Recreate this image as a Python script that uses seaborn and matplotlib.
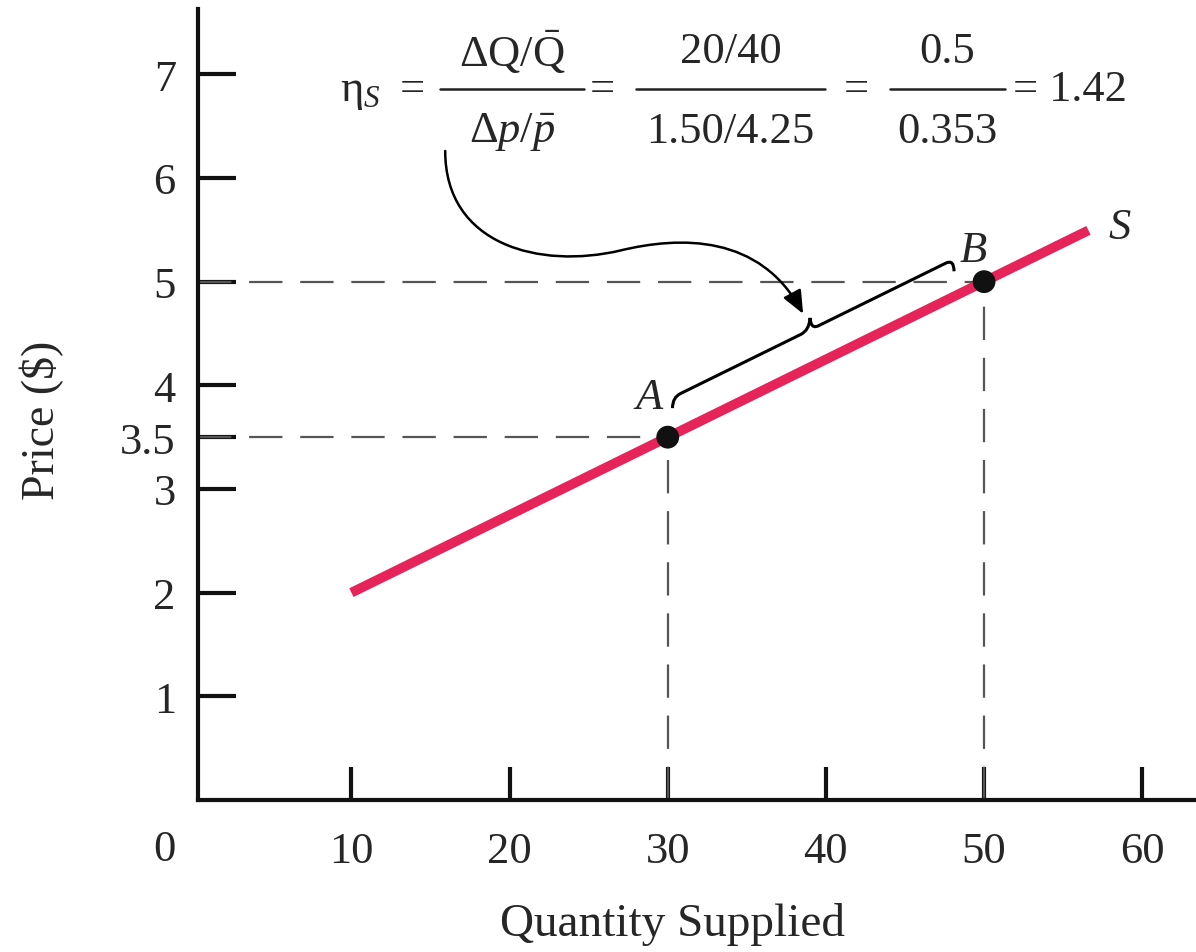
import numpy as np
import pandas as pd
import matplotlib
matplotlib.use("Agg")
import matplotlib.pyplot as plt
import seaborn as sns
from matplotlib.path import Path
from matplotlib.patches import PathPatch, FancyArrowPatch
from matplotlib.lines import Line2D

# ---- data ----
supply_q = [10, 56.6]
supply_p = [2.0, 5.495]
point_labels = ["A", "B"]
point_q = [30, 50]
point_p = [3.5, 5.0]
x_ticks = [10, 20, 30, 40, 50, 60]
y_ticks = [1, 2, 3, 3.5, 4, 5, 6, 7]
y_tick_labels = ["1", "2", "3", "3.5", "4", "5", "6", "7"]
frac_num = [r"$\Delta\mathrm{Q}/\bar{\mathrm{Q}}$", "20/40", "0.5"]
frac_den = [r"$\Delta p/\bar{p}$", "1.50/4.25", "0.353"]
result = "= 1.42"

sns.set_theme(style="ticks")
plt.rcParams["font.family"] = ["Liberation Serif", "DejaVu Serif"]
plt.rcParams["mathtext.fontset"] = "custom"
plt.rcParams["mathtext.rm"] = "Liberation Serif"
plt.rcParams["mathtext.it"] = "Liberation Serif:italic"
plt.rcParams["mathtext.bf"] = "Liberation Serif:bold"

W, H = 1196, 953
fig = plt.figure(figsize=(W / 100, H / 100), dpi=100)
ax = fig.add_axes([198 / W, (H - 801) / H, (W - 198) / W, (801 - 10) / H])

RED = "#E6245A"
GRAY = "#555555"
FS = 32

df_line = pd.DataFrame({"q": supply_q, "p": supply_p})
sns.lineplot(data=df_line, x="q", y="p", ax=ax, color=RED, linewidth=7,
             solid_capstyle="butt", zorder=3)

# dashed guides
for q, p in zip(point_q, point_p):
    ax.plot([0.3, q], [p, p], color=GRAY, lw=1.6, dashes=(15, 8), zorder=2)
    ax.plot([q, q], [0, p], color=GRAY, lw=1.6, dashes=(15, 8), zorder=2)

df_pts = pd.DataFrame({"q": point_q, "p": point_p, "lab": point_labels})
sns.scatterplot(data=df_pts, x="q", y="p", ax=ax, color="#111111", s=270,
                edgecolor="none", zorder=4, legend=False)

ax.text(28.8, 3.89, "A", fontsize=FS, style="italic", ha="center", va="center")
ax.text(49.3, 5.31, "B", fontsize=FS, style="italic", ha="center", va="center")
ax.text(58.6, 5.53, "S", fontsize=FS, style="italic", ha="center", va="center")

# brace
verts = [(30.3, 3.78), (30.3, 3.883), (30.8, 3.92), (38.4, 4.49),
         (38.95, 4.53), (39.0, 4.65), (39.05, 4.53), (39.6, 4.58),
         (47.6, 5.18), (48.1, 5.215), (48.1, 5.10)]
codes = [Path.MOVETO, Path.CURVE3, Path.CURVE3, Path.LINETO,
         Path.CURVE3, Path.CURVE3, Path.CURVE3, Path.CURVE3,
         Path.LINETO, Path.CURVE3, Path.CURVE3]
ax.add_patch(PathPatch(Path(verts, codes), fill=False, lw=2.2, color="black",
                       zorder=5))

# curved arrow
averts = [(15.93, 6.26), (15.93, 5.35), (21.93, 5.12), (26.99, 5.30),
          (30.78, 5.44), (35.84, 5.46), (38.56, 4.69)]
acodes = [Path.MOVETO, Path.CURVE4, Path.CURVE4, Path.CURVE4,
          Path.CURVE4, Path.CURVE4, Path.CURVE4]
arrow = FancyArrowPatch(path=Path(averts, acodes), arrowstyle="-|>,head_length=14,head_width=6",
                        color="black", lw=1.8, zorder=5)
ax.add_patch(arrow)

ax.set_xlim(0.3, 63.4)
ax.set_ylim(0, 7.63)
ax.set_xticks(x_ticks)
ax.set_xticklabels([str(t) for t in x_ticks])
ax.set_yticks(y_ticks)
ax.set_yticklabels(y_tick_labels)
ax.tick_params(axis="x", direction="in", length=24, width=3, pad=22,
               labelsize=FS, color="#111111")
ax.tick_params(axis="y", direction="in", length=27, width=3, pad=16,
               labelsize=FS, color="#111111")
for side in ["top", "right"]:
    ax.spines[side].set_visible(False)
for side in ["left", "bottom"]:
    ax.spines[side].set_linewidth(3)
    ax.spines[side].set_color("#111111")
ax.set_xlabel("")
ax.set_ylabel("")
ax.patch.set_alpha(0)

ax.text(-1.83, -0.47, "0", fontsize=FS, ha="center", va="center", clip_on=False)

fig.text(673 / W, 1 - 925 / H, "Quantity Supplied", fontsize=34, ha="center", va="center")
fig.text(42 / W, 1 - 420 / H, "Price ($)", fontsize=33, ha="center", va="center",
         rotation=90)

# ---- formula, laid out in figure pixels ----
def fx(px):
    return px / W

def fy(py):
    return 1 - py / H

FF = 32
fig.text(fx(340), fy(92), r"$\mathrm{\eta}_S$", fontsize=FF, ha="left", va="center")
fig.text(fx(412), fy(90), "=", fontsize=FF, ha="center", va="center")
bars = [(440, 584), (636, 825), (890, 1005)]
eqs = [602, 856]
for (x0, x1), num, den in zip(bars, frac_num, frac_den):
    fig.add_artist(Line2D([fx(x0), fx(x1)], [fy(90), fy(90)], color="#222222",
                          lw=1.8, transform=fig.transFigure))
    xc = (x0 + x1) / 2
    fig.text(fx(xc), fy(52), num, fontsize=FF, ha="center", va="center")
    fig.text(fx(xc), fy(132), den, fontsize=FF, ha="center", va="center")
for e in eqs:
    fig.text(fx(e), fy(90), "=", fontsize=FF, ha="center", va="center")
fig.text(fx(1013), fy(90), result, fontsize=FF, ha="left", va="center")

fig.savefig("out.png", dpi=100)
